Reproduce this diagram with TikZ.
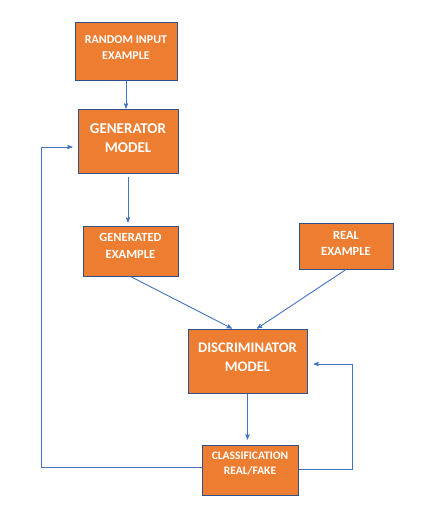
\documentclass[tikz,border=0pt]{standalone}
\usepackage{fontspec}
\setmainfont{Carlito}
\usetikzlibrary{arrows}
\definecolor{boxfill}{HTML}{ED7D31}
\definecolor{boxline}{HTML}{2F528F}
\definecolor{linkblue}{HTML}{4472C4}
\begin{document}
\begin{tikzpicture}[x=1pt,y=-1pt,>=stealth',
    box/.style={rectangle,draw=boxline,fill=boxfill,line width=1pt,
      inner sep=0pt,text=white,align=center},
    link/.style={->,color=linkblue,line width=0.9pt}]
    \fill[white] (0,0) rectangle (431,511);
    \useasboundingbox (0,0) rectangle (431,511);
    % boxes
    \node[box,minimum width=102pt,minimum height=57pt,text depth=7pt,
      font=\fontsize{12}{16}\selectfont\bfseries] (rand) at (126,51.5) {RANDOM INPUT\\EXAMPLE};
    \node[box,minimum width=100pt,minimum height=64pt,text depth=6pt,
      font=\fontsize{15}{18.7}\selectfont\bfseries] (gen) at (128,141) {GENERATOR\\MODEL};
    \node[box,minimum width=95pt,minimum height=50pt,text depth=10pt,
      font=\fontsize{12.5}{16.7}\selectfont\bfseries] (genex) at (130.5,251) {GENERATED\\EXAMPLE};
    \node[box,minimum width=94pt,minimum height=46pt,text depth=5.4pt,
      font=\fontsize{12.5}{16.7}\selectfont\bfseries] (real) at (346,246) {REAL\\EXAMPLE};
    \node[box,minimum width=119pt,minimum height=64pt,text depth=8pt,
      font=\fontsize{14.6}{19.3}\selectfont\bfseries] (disc) at (247.5,361) {DISCRIMINATOR\\MODEL};
    \node[box,minimum width=96pt,minimum height=50pt,text depth=14pt,
      font=\fontsize{11.5}{14.7}\selectfont\bfseries] (cls) at (250,470) {CLASSIFICATION\\REAL/FAKE};
    \coordinate (backL) at (41,147);
    \coordinate (backR) at (352,364);
    % links
    \path[link]
    (rand.south) edge (rand.south |- gen.north)
    ([yshift=-3pt]gen.south) edge [shorten >=3pt] (gen.south |- genex.north)
    (genex.south) edge ([xshift=-15.5pt]disc.north)
    (real.south) edge ([xshift=9.5pt]disc.north)
    (disc.south) edge [shorten >=5pt] (disc.south |- cls.north);
    \draw[link] ([yshift=3pt]cls.west) -| (backL) -- ([xshift=-5pt]gen.west |- backL);
    \draw[link] ([yshift=1pt]cls.east) -| (backR) -- ([xshift=6pt]disc.east |- backR);
\end{tikzpicture}
\end{document}
